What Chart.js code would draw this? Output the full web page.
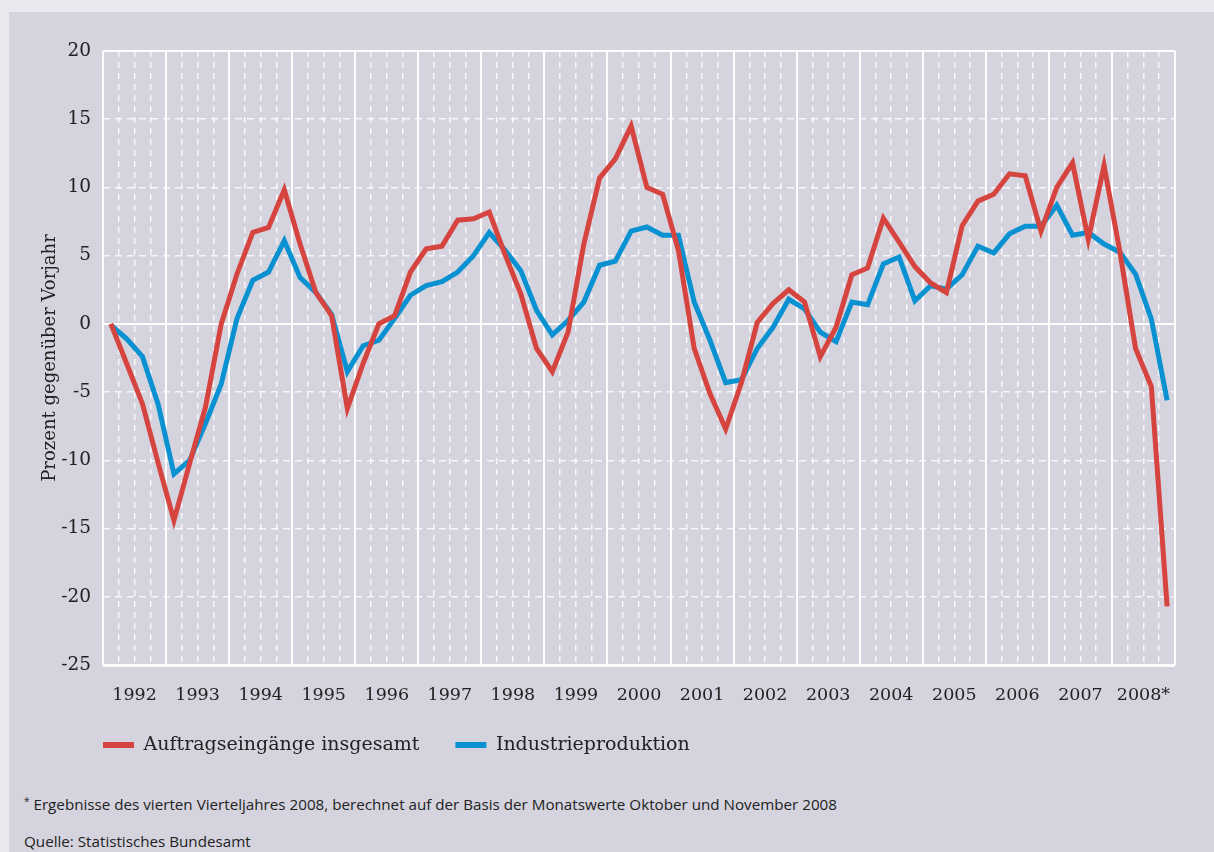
<!DOCTYPE html>
<html><head><meta charset="utf-8">
<script src="https://cdn.jsdelivr.net/npm/chart.js@4.4.0/dist/chart.umd.min.js"></script>
<style>
html,body{margin:0;padding:0;background:#e9e8ee;width:1214px;height:852px;overflow:hidden}
#panel{position:absolute;left:9px;top:12px;width:1205px;height:840px;background:#d4d3de}
#wrap{position:absolute;left:0;top:0;width:1214px;height:790px}
.note{position:absolute;left:24px;font-family:"Open Sans",sans-serif;font-size:15.2px;color:#222;white-space:nowrap;line-height:17px}
.note sup{font-size:10px;vertical-align:5px;line-height:0}
</style></head><body>
<div id="panel"></div>
<div id="wrap"><canvas id="c"></canvas></div>
<div class="note" style="top:796px"><sup>*</sup> Ergebnisse des vierten Vierteljahres 2008, berechnet auf der Basis der Monatswerte Oktober und November 2008</div>
<div class="note" style="top:833px">Quelle: Statistisches Bundesamt</div>
<script>
const years = ['1992','1993','1994','1995','1996','1997','1998','1999','2000','2001','2002','2003','2004','2005','2006','2007','2008*'];
const quartersPerYear = 4;
const auftragseingaenge = [
  0, -2.9, -5.85, -10.2,
  -14.4, -10.2, -6.1, 0,
  3.66, 6.7, 7.07, 9.83,
  5.85, 2.3, 0.6, -6.2,
  -2.9, 0, 0.6, 3.8,
  5.5, 5.7, 7.6, 7.7,
  8.2, 5.1, 2.2, -1.8,
  -3.5, -0.6, 5.85, 10.7,
  12.1, 14.5, 10.0, 9.5,
  5.4, -1.8, -5.1, -7.7,
  -4.3, 0.1, 1.5, 2.5,
  1.6, -2.4, -0.25, 3.6,
  4.1, 7.75, 6.0, 4.2,
  3.0, 2.3, 7.2, 9.0,
  9.5, 11.0, 10.85, 6.8,
  10.0, 11.8, 6.2, 11.6,
  5.3, -1.8, -4.6, -20.7
];
const industrieproduktion = [
  -0.1, -1.1, -2.4, -5.9,
  -11.0, -10.0, -7.3, -4.4,
  0.4, 3.2, 3.8, 6.1,
  3.4, 2.3, 0.7, -3.5,
  -1.6, -1.2, 0.4, 2.1,
  2.8, 3.1, 3.8, 5.0,
  6.7, 5.4, 3.9, 1.0,
  -0.8, 0.25, 1.6, 4.3,
  4.6, 6.8, 7.1, 6.5,
  6.5, 1.6, -1.2, -4.3,
  -4.1, -1.8, -0.25, 1.8,
  1.1, -0.6, -1.3, 1.6,
  1.4, 4.4, 4.9, 1.7,
  2.8, 2.55, 3.6, 5.7,
  5.2, 6.6, 7.15, 7.15,
  8.7, 6.5, 6.7, 5.85,
  5.25, 3.65, 0.35, -5.6
];
const yTicks = [20, 15, 10, 5, 0, -5, -10, -15, -20, -25];
const seriesNames = ['Auftragseingänge insgesamt', 'Industrieproduktion'];
const yTitle = 'Prozent gegenüber Vorjahr';

const nQ = years.length * quartersPerYear;
const toPoints = arr => arr.map((v, i) => ({x: i + 0.5, y: v}));
const WHITE = 'rgba(255,255,255,0.95)';
const DASHW = 'rgba(255,255,255,0.8)';
const NONE = 'rgba(0,0,0,0)';
const serif = '"DejaVu Serif", serif';
const LEGEND_FONT = 19;

const legendPlace = {
  id: 'legendPlace',
  afterLayout(chart) {
    const lg = chart.legend;
    if (!lg) return;
    const pad = lg.options.labels.padding;
    lg.left = chart.chartArea.left - pad;
    lg.top = chart.chartArea.bottom + 80 - pad - LEGEND_FONT / 2;
  }
};

new Chart(document.getElementById('c'), {
  type: 'line',
  data: {
    datasets: [
      {label: seriesNames[0], data: toPoints(auftragseingaenge), borderColor: '#d6443f', backgroundColor: '#d6443f', borderWidth: 5, pointRadius: 0, tension: 0},
      {label: seriesNames[1], data: toPoints(industrieproduktion), borderColor: '#0a91d1', backgroundColor: '#0a91d1', borderWidth: 5, pointRadius: 0, tension: 0}
    ]
  },
  plugins: [legendPlace],
  options: {
    responsive: true, maintainAspectRatio: false, animation: false,
    layout: {padding: {top: 51, right: 39, left: 0, bottom: 0}},
    plugins: {
      tooltip: {enabled: false},
      legend: {
        position: 'bottom', align: 'start',
        labels: {
          boxWidth: 31, boxHeight: 6, padding: 36, color: '#222',
          font: {family: serif, size: LEGEND_FONT},
          generateLabels: chart => Chart.defaults.plugins.legend.labels.generateLabels(chart).map(l => Object.assign(l, {lineWidth: 0}))
        }
      }
    },
    scales: {
      x: {
        type: 'linear', position: 'bottom', min: 0, max: nQ,
        afterBuildTicks: s => { s.ticks = years.map((_, k) => ({value: k * quartersPerYear + quartersPerYear / 2})); },
        ticks: {callback: (v, i) => years[i], autoSkip: false, maxRotation: 0, padding: 12, color: '#222', font: {family: serif, size: 17.5}},
        grid: {display: false}, border: {display: false},
        afterFit: s => { s.height = 60; }
      },
      xq: {
        type: 'linear', position: 'bottom', min: 0, max: nQ,
        afterBuildTicks: s => { s.ticks = Array.from({length: nQ + 1}, (_, i) => ({value: i})); },
        ticks: {display: false},
        grid: {drawTicks: false, lineWidth: 1.5, color: c => (c.tick && c.tick.value % quartersPerYear === 0) ? NONE : DASHW},
        border: {display: false, dash: [6, 5]},
        afterFit: s => { s.height = 0; }
      },
      xy: {
        type: 'linear', position: 'bottom', min: 0, max: nQ,
        afterBuildTicks: s => { s.ticks = Array.from({length: years.length + 1}, (_, k) => ({value: k * quartersPerYear})); },
        ticks: {display: false},
        grid: {drawTicks: false, lineWidth: 2, color: WHITE},
        border: {display: false},
        afterFit: s => { s.height = 0; }
      },
      y: {
        type: 'linear', position: 'left', min: -25, max: 20,
        afterBuildTicks: s => { s.ticks = yTicks.map(v => ({value: v})); },
        ticks: {padding: 12, color: '#222', font: {family: serif, size: 18.5}},
        grid: {drawTicks: false, lineWidth: 1.5, color: c => (c.tick && [0, 20, -25].includes(c.tick.value)) ? NONE : DASHW},
        border: {display: false, dash: [7, 5]},
        title: {display: true, text: yTitle, color: '#222', font: {family: serif, size: 18}, padding: {top: 40, bottom: 0}},
        afterFit: s => { s.width = 103; }
      },
      yf: {
        type: 'linear', position: 'left', min: -25, max: 20,
        afterBuildTicks: s => { s.ticks = [{value: -25}, {value: 0}, {value: 20}]; },
        ticks: {display: false},
        grid: {drawTicks: false, color: WHITE, lineWidth: c => (c.tick && c.tick.value === -25) ? 3 : 2},
        border: {display: false},
        afterFit: s => { s.width = 0; }
      }
    }
  }
});
</script>
</body></html>
